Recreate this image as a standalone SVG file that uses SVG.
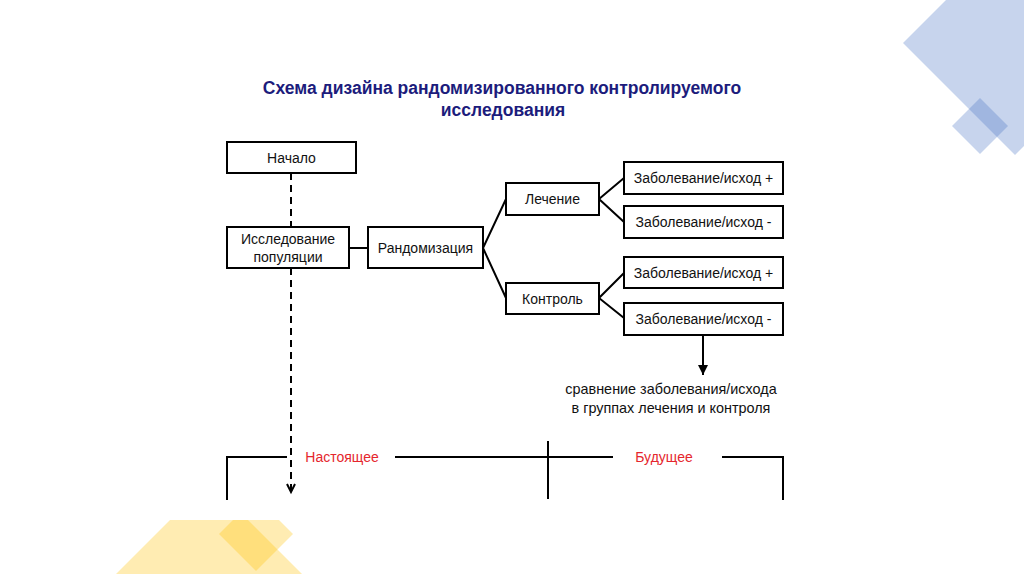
<svg xmlns="http://www.w3.org/2000/svg" width="1024" height="574" viewBox="0 0 1024 574">
<defs>
<style>
.box{fill:#fff;stroke:#000;stroke-width:2}
.t{font-family:"Liberation Sans",Arial,sans-serif;font-size:14px;fill:#111;text-anchor:middle}
.cmp{font-size:14.4px}
.red{fill:#e5262d}
.ttl{font-family:"Liberation Sans",Arial,sans-serif;font-size:17.5px;font-weight:bold;fill:#1c1c7c;text-anchor:middle}
.ln{stroke:#000;stroke-width:2;fill:none}
.dash{stroke:#000;stroke-width:2;fill:none;stroke-dasharray:7 5}
.blue{fill:#4472c4;fill-opacity:0.3}
.yel{fill:#ffc000;fill-opacity:0.3}
</style>
<clipPath id="yc"><rect x="0" y="520" width="1024" height="60"/></clipPath>
<marker id="ah" markerWidth="12" markerHeight="12" refX="10" refY="6" orient="auto" markerUnits="userSpaceOnUse">
<path d="M0,1 L10,6 L0,11 Z" fill="#000"/>
</marker>
</defs>
<rect width="1024" height="574" fill="#fff"/>
<g id="decor">
<polygon class="blue" points="1015,-69 1127,43 1015,155 903,43"/>
<polygon class="blue" points="980,98 1008,126 980,154 952,126"/>
<g clip-path="url(#yc)">
<polygon class="yel" points="209,481 302,574 116,574"/>
<polygon class="yel" points="256,497 293,534 256,571 219,534"/>
</g>
</g>
<g id="title">
<text class="ttl" x="502" y="94">Схема дизайна рандомизированного контролируемого</text>
<text class="ttl" x="503" y="116">исследования</text>
</g>
<g id="connectors">
<line class="dash" x1="291" y1="173" x2="291" y2="227"/>
<line class="dash" x1="291" y1="268" x2="291" y2="490"/>
<polyline class="ln" points="287,484 291,492 295,484" stroke-width="1.6"/>
<line class="ln" x1="349" y1="248" x2="368" y2="248"/>
<polyline class="ln" points="506,199 483,248 506,298"/>
<polyline class="ln" points="624,178 599,199 624,222"/>
<polyline class="ln" points="624,273 599,298 624,318"/>
<line class="ln" x1="703" y1="335" x2="703" y2="375" marker-end="url(#ah)"/>
</g>
<g id="n-start"><rect class="box" x="227" y="142" width="129" height="31"/><text class="t" x="291.5" y="162.5">Начало</text></g>
<g id="n-pop"><rect class="box" x="227" y="227" width="122" height="41"/><text class="t" x="288" y="244">Исследование</text><text class="t" x="288" y="262">популяции</text></g>
<g id="n-rand"><rect class="box" x="368" y="227" width="115" height="41"/><text class="t" x="425.5" y="253">Рандомизация</text></g>
<g id="n-treat"><rect class="box" x="506" y="183" width="93" height="32"/><text class="t" x="552.5" y="204">Лечение</text></g>
<g id="n-ctrl"><rect class="box" x="506" y="283" width="93" height="31"/><text class="t" x="552.5" y="303.5">Контроль</text></g>
<g id="n-o1"><rect class="box" x="624" y="162" width="159" height="32"/><text class="t" x="703.5" y="183">Заболевание/исход +</text></g>
<g id="n-o2"><rect class="box" x="624" y="206" width="159" height="32"/><text class="t" x="703.5" y="227">Заболевание/исход -</text></g>
<g id="n-o3"><rect class="box" x="624" y="257" width="159" height="31"/><text class="t" x="703.5" y="277.5">Заболевание/исход +</text></g>
<g id="n-o4"><rect class="box" x="624" y="303" width="159" height="32"/><text class="t" x="703.5" y="324">Заболевание/исход -</text></g>
<g id="n-compare"><text class="t cmp" x="671" y="394">сравнение заболевания/исхода</text><text class="t cmp" x="671" y="413">в группах лечения и контроля</text></g>
<g id="timeline">
<polyline class="ln" points="227,500 227,457 287,457"/>
<line class="ln" x1="395" y1="457" x2="613" y2="457"/>
<line class="ln" x1="548" y1="441" x2="548" y2="499"/>
<polyline class="ln" points="722,457 783,457 783,500"/>
<text class="t red" x="342" y="462">Настоящее</text>
<text class="t red" x="664" y="462">Будущее</text>
</g>
</svg>
